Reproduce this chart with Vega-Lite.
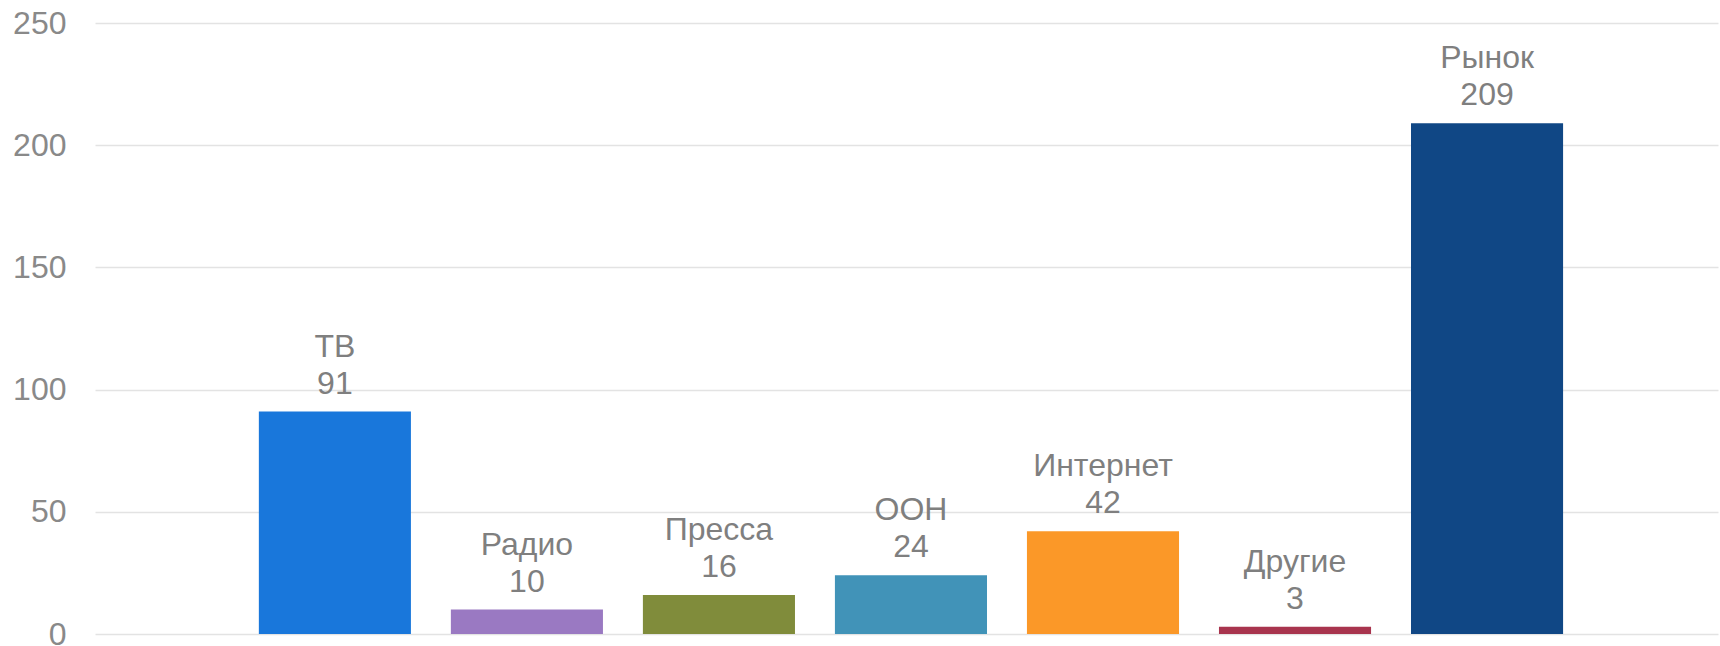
{
  "$schema": "https://vega.github.io/schema/vega-lite/v6.json",
  "autosize": {"type": "none"},
  "padding": {"left": 95, "top": 23, "right": 2, "bottom": 12},
  "width": 1623,
  "height": 611,
  "config": {"view": {"stroke": null}, "font": "Liberation Sans"},
  "data": {"values": [
    {"name": "ТВ", "value": 91},
    {"name": "Радио", "value": 10},
    {"name": "Пресса", "value": 16},
    {"name": "ООН", "value": 24},
    {"name": "Интернет", "value": 42},
    {"name": "Другие", "value": 3},
    {"name": "Рынок", "value": 209}
  ]},
  "encoding": {
    "x": {"field": "name", "type": "nominal", "sort": null,
      "scale": {"paddingInner": 0.208, "paddingOuter": 0.83, "align": 0.514}, "axis": null},
    "y": {"field": "value", "type": "quantitative",
      "scale": {"domain": [0, 250], "nice": false},
      "axis": {"values": [0, 50, 100, 150, 200, 250], "title": null, "domain": false, "ticks": false,
        "labelPadding": 29, "labelFontSize": 32, "labelColor": "#898989", "labelFont": "Liberation Sans",
        "gridColor": "#e3e3e3", "gridWidth": 1.5}}
  },
  "layer": [
    {"mark": {"type": "bar"},
      "encoding": {"color": {"field": "name", "type": "nominal", "legend": null,
        "scale": {"domain": ["ТВ", "Радио", "Пресса", "ООН", "Интернет", "Другие", "Рынок"],
          "range": ["#1977DB", "#9A79C2", "#808C3B", "#4193B8", "#FB9828", "#A8344E", "#104785"]}}}},
    {"mark": {"type": "text", "baseline": "alphabetic", "dy": -18, "fontSize": 32, "color": "#7f7f7f", "font": "Liberation Sans"},
      "encoding": {"text": {"field": "value", "type": "quantitative"}}},
    {"mark": {"type": "text", "baseline": "alphabetic", "dy": -55, "fontSize": 32, "color": "#7f7f7f", "font": "Liberation Sans"},
      "encoding": {"text": {"field": "name", "type": "nominal"}}}
  ]
}
